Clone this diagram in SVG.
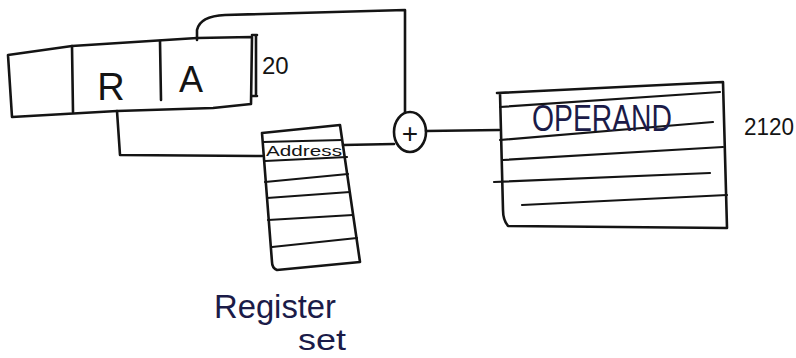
<svg xmlns="http://www.w3.org/2000/svg" width="796" height="358" viewBox="0 0 796 358">
  <style>
    .ink { fill: none; stroke: #141414; stroke-width: 2.6; stroke-linecap: round; stroke-linejoin: round; }
    .thin { fill: none; stroke: #141414; stroke-width: 2.2; stroke-linecap: round; }
    .lbl { font-family: "Liberation Sans", "DejaVu Sans", sans-serif; fill: #141414; }
    .blue { fill: #1b1b48; }
  </style>
  <rect width="796" height="358" fill="#ffffff"/>

  <!-- instruction word: mode | R | A -->
  <g id="instruction">
    <path class="ink" d="M8,55 L72,46 L197,38 L252,37 L251,104 L213,108 L117,111 L12,117 Z"/>
    <path class="ink" d="M72,46 L73,112"/>
    <path class="ink" d="M160,41 L161,100"/>
    <text class="lbl" x="111" y="100" font-size="38" text-anchor="middle">R</text>
    <text class="lbl" x="191" y="92" font-size="36" text-anchor="middle">A</text>
    <!-- width bracket -->
    <path class="ink" d="M252,35 L257,35 M256,35 L256,96 M252,96 L257,96"/>
    <text class="lbl" x="262" y="74" font-size="24">20</text>
  </g>

  <!-- adder -->
  <g id="adder">
    <ellipse class="ink" cx="410" cy="132" rx="16" ry="20"/>
    <text class="lbl" x="410" y="143" font-size="28" text-anchor="middle">+</text>
  </g>

  <!-- register set -->
  <g id="register-set">
    <path class="ink" d="M262,133 L340,125 L360,262 L277,270 Q272,268 272,262 L262,133"/>
    <path class="thin" d="M263,142 L342,140"/>
    <path class="thin" d="M265,161 L347,157"/>
    <path class="thin" d="M265,182 L348,174"/>
    <path class="thin" d="M267,198 L350,192"/>
    <path class="thin" d="M268,220 L353,215"/>
    <path class="thin" d="M272,247 L357,238"/>
    <text class="lbl" x="266" y="156" font-size="15" textLength="76" lengthAdjust="spacingAndGlyphs">Address</text>
    <text class="lbl blue" x="214" y="318" font-size="34" textLength="122" lengthAdjust="spacingAndGlyphs">Register</text>
    <text class="lbl blue" x="298" y="350" font-size="30" textLength="48" lengthAdjust="spacingAndGlyphs">set</text>
  </g>

  <!-- memory -->
  <g id="memory">
    <path class="ink" d="M497,93 L723,82 L727,228 L508,226 Q503,220 503,210 L500,93"/>
    <path class="thin" d="M500,107 L720,92"/>
    <path class="thin" d="M500,140 L713,122"/>
    <path class="thin" d="M503,160 L723,147"/>
    <path class="thin" d="M494,182 L710,173"/>
    <path class="thin" d="M522,205 L727,195"/>
    <text class="lbl blue" x="532" y="131" font-size="36" textLength="140" lengthAdjust="spacingAndGlyphs">OPERAND</text>
    <text class="lbl" x="744" y="135" font-size="24" textLength="50" lengthAdjust="spacingAndGlyphs">2120</text>
  </g>

  <!-- connectors -->
  <g id="connectors">
    <path class="ink" d="M197,40 L197,30 Q200,16 225,15 L405,10 L405,112"/>
    <path class="ink" d="M117,111 L120,155 L262,156"/>
    <path class="ink" d="M394,144 L343,145"/>
    <path class="ink" d="M426,131 L499,130"/>
  </g>
</svg>
